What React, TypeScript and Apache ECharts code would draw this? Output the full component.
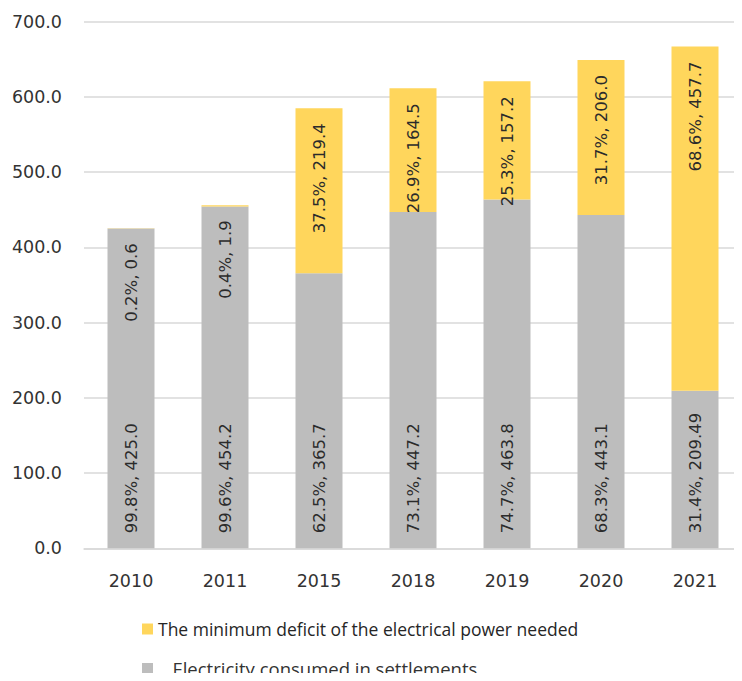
import React, { useEffect, useRef } from "react";
import * as echarts from "echarts";

// Years shown on the category axis
const years = ["2010", "2011", "2015", "2018", "2019", "2020", "2021"];

// Electricity consumed in settlements (lower, grey segment)
const consumed = [425.0, 454.2, 365.7, 447.2, 463.8, 443.1, 209.49];
const consumedShare = ["99.8%", "99.6%", "62.5%", "73.1%", "74.7%", "68.3%", "31.4%"];

// Minimum deficit of the electrical power needed (upper, yellow segment)
const deficit = [0.6, 1.9, 219.4, 164.5, 157.2, 206.0, 457.7];
const deficitShare = ["0.2%", "0.4%", "37.5%", "26.9%", "25.3%", "31.7%", "68.6%"];

const yTicks = { min: 0, max: 700, interval: 100 };

const GREY = "#bdbdbd";
const YELLOW = "#ffd65c";
const FONT = "DejaVu Sans";

const fmtValue = (v: number) => (Number.isInteger(v * 10) ? v.toFixed(1) : String(v));

export default function App() {
  const ref = useRef<HTMLDivElement>(null);

  useEffect(() => {
    if (!ref.current) return;
    const chart = echarts.init(ref.current, null, { renderer: "svg" });

    const labelBase = {
      show: true,
      rotate: 90,
      verticalAlign: "middle" as const,
      distance: 15,
      fontFamily: FONT,
      fontSize: 16.5,
      color: "#2b2b2b",
    };

    const legendText = { fontFamily: "Open Sans", fontSize: 17.5, color: "#262626" };

    chart.setOption({
      animation: false,
      backgroundColor: "#ffffff",
      grid: { left: 84, top: 21.7, width: 665, height: 526.6, containLabel: false },
      legend: [
        {
          data: ["The minimum deficit of the electrical power needed"],
          left: 137,
          top: 615,
          icon: "rect",
          itemWidth: 11,
          itemHeight: 11,
          textStyle: legendText,
          selectedMode: false,
        },
        {
          data: ["Electricity consumed in settlements"],
          left: 137,
          top: 654,
          icon: "rect",
          itemWidth: 11,
          itemHeight: 11,
          // non-breaking spaces keep the wider gap after the grey swatch
          formatter: (name: string) => "\u00a0\u00a0\u00a0" + name,
          textStyle: { ...legendText, fontSize: 18.5, color: "#333333" },
          selectedMode: false,
        },
      ],
      xAxis: {
        type: "category",
        data: years,
        axisLine: { show: true, lineStyle: { color: "#d9d9d9", width: 1.5 } },
        axisTick: { show: false },
        axisLabel: { fontFamily: FONT, fontSize: 17.5, color: "#333333", margin: 24 },
      },
      yAxis: {
        type: "value",
        min: yTicks.min,
        max: yTicks.max,
        interval: yTicks.interval,
        axisLine: { show: false },
        axisTick: { show: false },
        splitLine: { lineStyle: { color: "#d9d9d9", width: 1.5 } },
        axisLabel: {
          fontFamily: FONT,
          fontSize: 17.5,
          color: "#333333",
          margin: 22,
          formatter: (v: number) => v.toFixed(1),
        },
      },
      series: [
        {
          name: "Electricity consumed in settlements",
          type: "bar",
          stack: "total",
          barWidth: 47,
          data: consumed,
          itemStyle: { color: GREY },
          label: {
            ...labelBase,
            position: "insideBottom",
            align: "left",
            formatter: (p: any) => `${consumedShare[p.dataIndex]}, ${fmtValue(p.value)}`,
          },
        },
        {
          name: "The minimum deficit of the electrical power needed",
          type: "bar",
          stack: "total",
          barWidth: 47,
          data: deficit,
          itemStyle: { color: YELLOW },
          label: {
            ...labelBase,
            position: "insideTop",
            align: "right",
            formatter: (p: any) => `${deficitShare[p.dataIndex]}, ${fmtValue(p.value)}`,
          },
        },
      ],
    });

    return () => chart.dispose();
  }, []);

  return <div ref={ref} style={{ width: 742, height: 681, margin: -8 }} />;
}
